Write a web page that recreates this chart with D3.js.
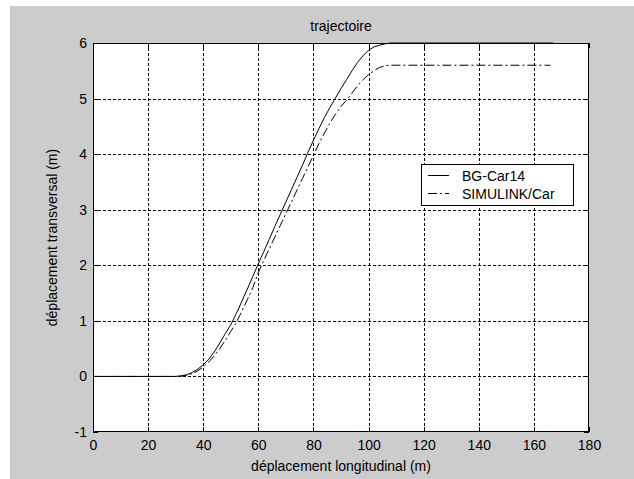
<!DOCTYPE html>
<html>
<head>
<meta charset="utf-8">
<script src="https://cdn.jsdelivr.net/npm/d3@7"></script>
<style>
  html, body { margin: 0; padding: 0; background: #ffffff; }
  svg { display: block; }
  text { font-family: "Liberation Sans", Arial, Helvetica, sans-serif; fill: #000; }
</style>
</head>
<body>
<svg id="chart" width="634" height="479"></svg>
<script>
// ---- data ----
const chartTitle = "trajectoire";
const xLabel = "déplacement longitudinal (m)";
const yLabel = "déplacement transversal (m)";
const xTicks = [0, 20, 40, 60, 80, 100, 120, 140, 160, 180];
const yTicks = [-1, 0, 1, 2, 3, 4, 5, 6];
const seriesNames = ["BG-Car14", "SIMULINK/Car"];

const bgX = [0, 30, 32, 34, 36, 38, 40, 42, 44, 46, 48, 50, 52, 54, 56, 58, 60, 62, 64, 66, 68, 70, 72, 74, 76, 78, 80, 82, 84, 86, 88, 90, 92, 94, 96, 98, 100, 102, 104, 106, 108, 167];
const bgY = [0, 0, 0.01, 0.03, 0.07, 0.13, 0.21, 0.31, 0.44, 0.60, 0.77, 0.93, 1.13, 1.35, 1.57, 1.80, 2.03, 2.25, 2.47, 2.70, 2.92, 3.14, 3.36, 3.58, 3.80, 4.03, 4.25, 4.46, 4.66, 4.84, 5.01, 5.18, 5.34, 5.50, 5.65, 5.77, 5.87, 5.93, 5.96, 5.985, 6.0, 6.0];

const simX = [0, 30, 32, 34, 36, 38, 40, 42, 44, 46, 48, 50, 52, 54, 56, 58, 60, 62, 64, 66, 68, 70, 72, 74, 76, 78, 80, 82, 84, 86, 88, 90, 92, 94, 96, 98, 100, 102, 104, 106, 108, 166];
const simY = [0, 0, 0.005, 0.02, 0.05, 0.10, 0.17, 0.26, 0.37, 0.50, 0.65, 0.81, 0.97, 1.17, 1.38, 1.60, 1.87, 2.09, 2.30, 2.51, 2.72, 2.93, 3.14, 3.35, 3.56, 3.77, 3.98, 4.19, 4.38, 4.56, 4.72, 4.86, 4.97, 5.10, 5.23, 5.34, 5.43, 5.50, 5.56, 5.59, 5.60, 5.60];

// ---- layout ----
const svg = d3.select("#chart");
const W = 634, H = 479;
const plot = { left: 93, top: 43, right: 589, bottom: 432 };

// figure background
svg.append("rect").attr("x", 10).attr("y", 6).attr("width", W - 10).attr("height", H - 6).attr("fill", "#cccccc");

const x = d3.scaleLinear().domain([0, 180]).range([plot.left, plot.right]);
const y = d3.scaleLinear().domain([-1, 6]).range([plot.bottom, plot.top]);

// axes background
svg.append("rect")
  .attr("x", plot.left).attr("y", plot.top)
  .attr("width", plot.right - plot.left).attr("height", plot.bottom - plot.top)
  .attr("fill", "#ffffff");

// grid
const grid = svg.append("g").attr("stroke", "#000").attr("stroke-width", 1).attr("stroke-dasharray", "3,2").attr("shape-rendering", "crispEdges");
xTicks.slice(1, -1).forEach(t => {
  grid.append("line").attr("x1", Math.round(x(t)) + 0.5).attr("x2", Math.round(x(t)) + 0.5)
    .attr("y1", plot.top).attr("y2", plot.bottom);
});
yTicks.slice(1, -1).forEach(t => {
  grid.append("line").attr("y1", Math.round(y(t)) + 0.5).attr("y2", Math.round(y(t)) + 0.5)
    .attr("x1", plot.left).attr("x2", plot.right);
});

// axes via d3 (plain hyphen for negatives, as in the original)
const fmt = d => String(d);
const xAxis = d3.axisBottom(x).tickValues(xTicks).tickSize(0).tickPadding(8).tickFormat(fmt);
const yAxis = d3.axisLeft(y).tickValues(yTicks).tickSize(0).tickPadding(6).tickFormat(fmt);
const gx = svg.append("g").attr("transform", `translate(0,${plot.bottom})`).call(xAxis);
const gy = svg.append("g").attr("transform", `translate(${plot.left},0)`).call(yAxis);
[gx, gy].forEach(g => {
  g.select(".domain").remove();
  g.selectAll("text").style("font-family", '"Liberation Sans", Arial, sans-serif').style("font-size", "14px").attr("fill", "#000");
});

// inward ticks on all four sides
const tk = svg.append("g").attr("stroke", "#000").attr("stroke-width", 1).attr("shape-rendering", "crispEdges");
xTicks.forEach(t => {
  const px = Math.round(x(t)) + 0.5;
  tk.append("line").attr("x1", px).attr("x2", px).attr("y1", plot.bottom).attr("y2", plot.bottom - 5);
  tk.append("line").attr("x1", px).attr("x2", px).attr("y1", plot.top).attr("y2", plot.top + 5);
});
yTicks.forEach(t => {
  const py = Math.round(y(t)) + 0.5;
  tk.append("line").attr("y1", py).attr("y2", py).attr("x1", plot.left).attr("x2", plot.left + 5);
  tk.append("line").attr("y1", py).attr("y2", py).attr("x1", plot.right).attr("x2", plot.right - 5);
});

// curves
const line = d3.line().x(d => x(d[0])).y(d => y(d[1]));
svg.append("path").datum(bgX.map((v, i) => [v, bgY[i]]))
  .attr("d", line).attr("fill", "none").attr("stroke", "#000").attr("stroke-width", 1);
svg.append("path").datum(simX.map((v, i) => [v, simY[i]]))
  .attr("d", line).attr("fill", "none").attr("stroke", "#000").attr("stroke-width", 1)
  .attr("stroke-dasharray", "9,3,2,3");

// axes box
svg.append("rect")
  .attr("x", plot.left + 0.5).attr("y", plot.top + 0.5)
  .attr("width", plot.right - plot.left - 1).attr("height", plot.bottom - plot.top - 1)
  .attr("fill", "none").attr("stroke", "#000").attr("stroke-width", 1).attr("shape-rendering", "crispEdges");

// title and labels
svg.append("text").attr("x", (plot.left + plot.right) / 2).attr("y", 31)
  .attr("text-anchor", "middle").style("font-size", "14px").text(chartTitle);
svg.append("text").attr("x", (plot.left + plot.right) / 2).attr("y", 471)
  .attr("text-anchor", "middle").style("font-size", "14px").text(xLabel);
svg.append("text").attr("transform", `translate(57,${(plot.top + plot.bottom) / 2}) rotate(-90)`)
  .attr("text-anchor", "middle").style("font-size", "14px").text(yLabel);

// legend
const leg = { x: 421, y: 164, w: 152, h: 41 };
svg.append("rect").attr("x", leg.x + 0.5).attr("y", leg.y + 0.5).attr("width", leg.w).attr("height", leg.h)
  .attr("fill", "#ffffff").attr("stroke", "#000").attr("stroke-width", 1).attr("shape-rendering", "crispEdges");
const dashes = [null, "9,3,2,3"];
seriesNames.forEach((name, i) => {
  const cy = leg.y + 11.5 + i * 18;
  const l = svg.append("line").attr("x1", leg.x + 7).attr("x2", leg.x + 28).attr("y1", cy).attr("y2", cy)
    .attr("stroke", "#000").attr("stroke-width", 1);
  if (dashes[i]) l.attr("stroke-dasharray", dashes[i]);
  svg.append("text").attr("x", leg.x + 41).attr("y", cy + 5).style("font-size", "14px").text(name);
});
</script>
</body>
</html>
